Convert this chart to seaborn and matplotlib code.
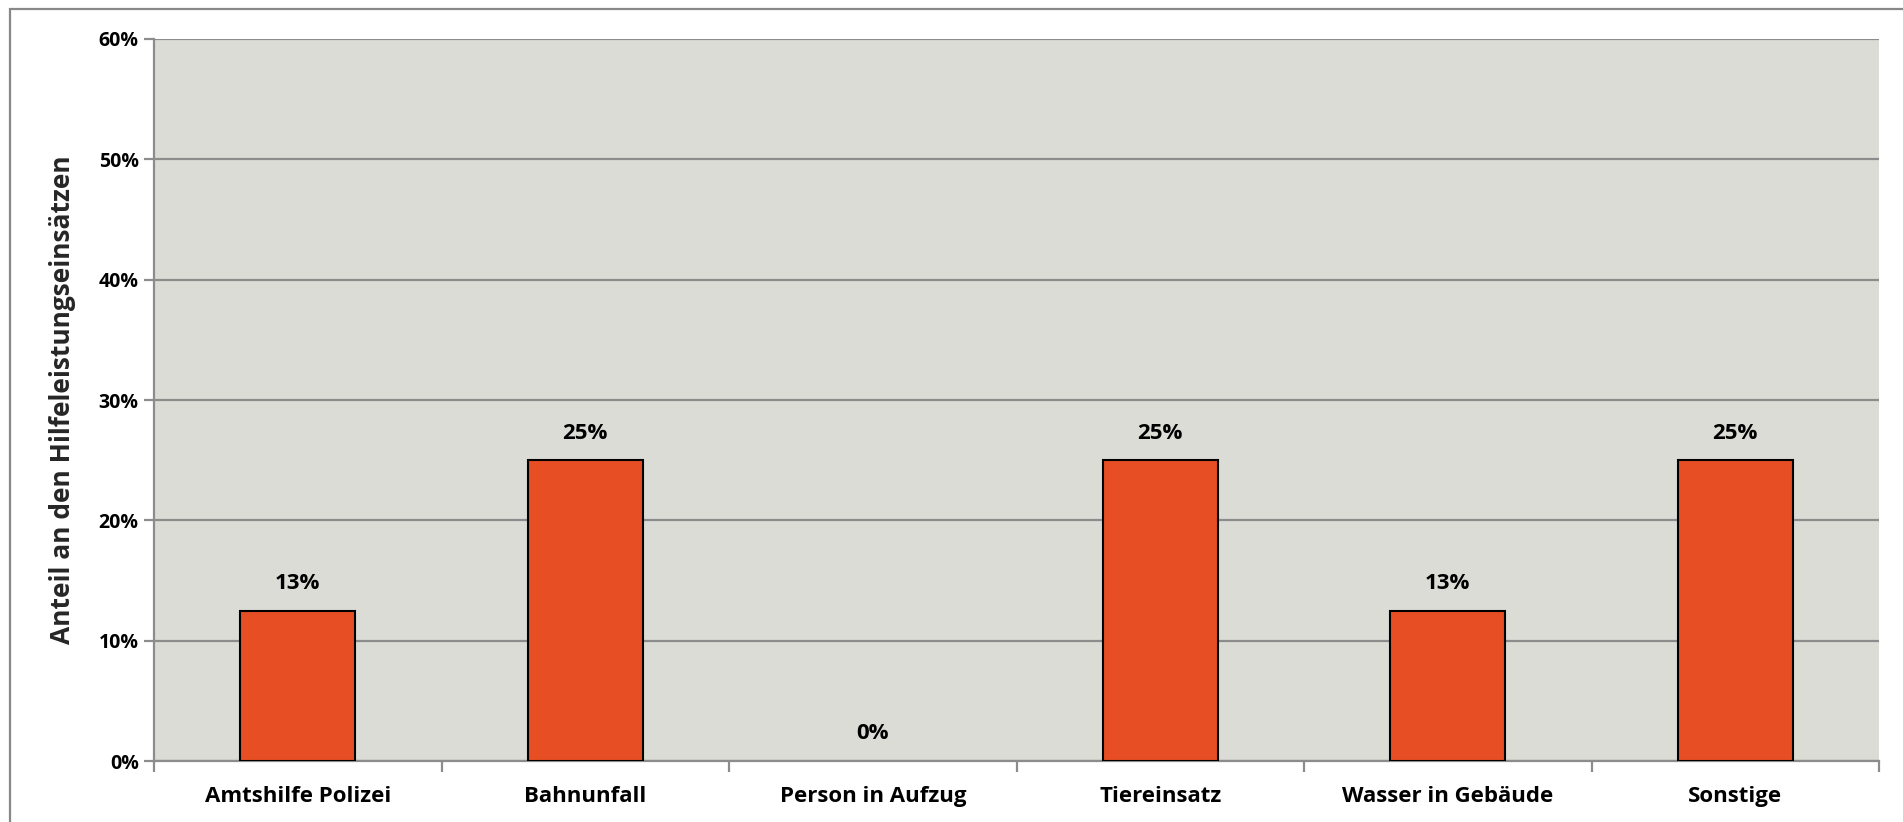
import matplotlib
matplotlib.use("Agg")
import matplotlib.pyplot as plt
import seaborn as sns
import pandas as pd
import numpy as np
from matplotlib.patches import Rectangle
from matplotlib.ticker import FixedLocator, FuncFormatter

categories = ["Amtshilfe Polizei", "Bahnunfall", "Person in Aufzug",
              "Tiereinsatz", "Wasser in Gebäude", "Sonstige"]
values = [0.125, 0.25, 0.0, 0.25, 0.125, 0.25]
y_ticks = [0.0, 0.1, 0.2, 0.3, 0.4, 0.5, 0.6]
y_label = "Anteil an den Hilfeleistungseinsätzen"

sns.set_theme(style="white")
plt.rcParams['font.family'] = ['Open Sans', 'DejaVu Sans']
plt.rcParams['font.weight'] = 'bold'

df = pd.DataFrame({"Kategorie": categories, "Anteil": values})

fig = plt.figure(figsize=(19.03, 8.22), dpi=100)
fig.patch.set_facecolor("white")
ax = fig.add_axes([154/1903, 1-761/822, (1879-154)/1903, (761-39)/822])

sns.barplot(data=df, x="Kategorie", y="Anteil", ax=ax, color="#E84E23",
            saturation=1, width=0.40, edgecolor="black", linewidth=1.5, zorder=3)
for p in ax.patches:
    if p.get_height() == 0:
        p.set_edgecolor("none")

ax.set_facecolor("#DCDCD7")
ax.set_ylim(0, 0.6)
ax.set_xlim(-0.5, len(categories) - 0.5)
ax.yaxis.set_major_locator(FixedLocator(y_ticks))
ax.yaxis.set_major_formatter(FuncFormatter(lambda v, p: f"{int(round(v*100))}%"))
ax.grid(axis="y", color="#8C8C8C", linewidth=1.6, zorder=0)
ax.set_axisbelow(True)

for s in ["top", "right"]:
    ax.spines[s].set_visible(False)
for s in ["left", "bottom"]:
    ax.spines[s].set_color("#8C8C8C")
    ax.spines[s].set_linewidth(1.6)

ax.tick_params(axis="y", which="major", left=True, length=7, width=1.6, color="#8C8C8C",
               labelsize=14, labelcolor="black", pad=4)
ax.tick_params(axis="x", which="major", bottom=False, length=0, labelsize=16,
               labelcolor="black", pad=18)
ax.set_xticks(np.arange(-0.5, len(categories), 1.0), minor=True)
ax.tick_params(axis="x", which="minor", bottom=True, length=8, width=1.6, color="#8C8C8C")
for lab in ax.get_xticklabels() + ax.get_yticklabels():
    lab.set_fontweight("bold")

ax.set_xlabel("")
ax.set_ylabel(y_label, fontsize=19, fontweight="bold", labelpad=16)

for i, v in enumerate(values):
    ax.annotate(f"{int(v*100 + 0.5)}%", (i, v), xytext=(0, 12), textcoords="offset points",
                ha="center", va="bottom", fontsize=16, fontweight="bold", color="black")

fig.add_artist(Rectangle((10/1903, -0.05), 1.1, 1 - 9/822 + 0.05, transform=fig.transFigure,
                         fill=False, edgecolor="#888888", linewidth=1.6))

fig.savefig("out.png", dpi=100)
